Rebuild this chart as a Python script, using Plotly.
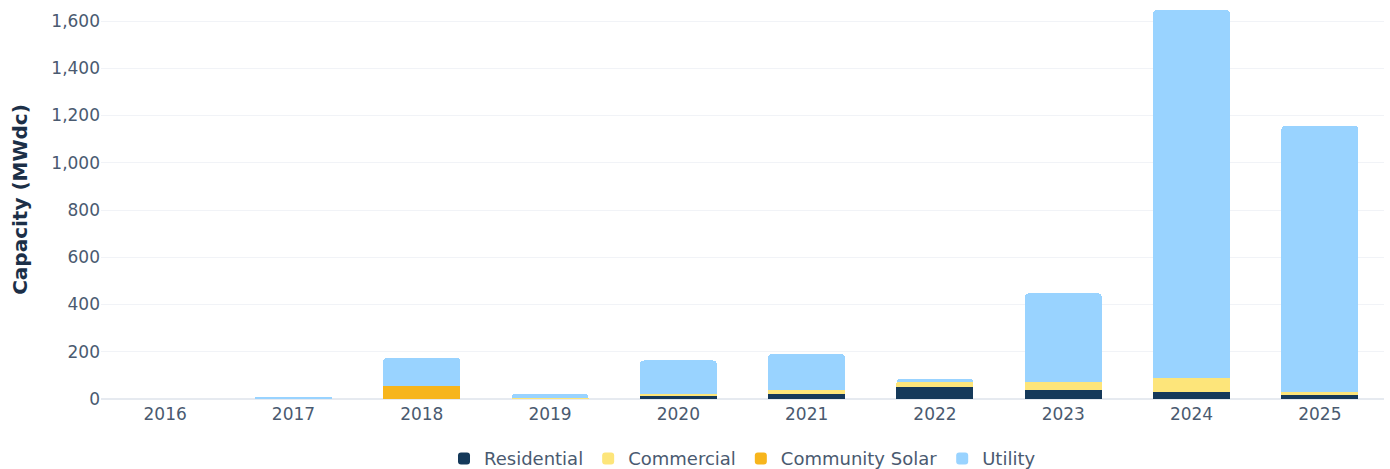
import plotly.graph_objects as go

years = ["2016", "2017", "2018", "2019", "2020", "2021", "2022", "2023", "2024", "2025"]
residential = [0, 3, 0, 3, 15, 21, 52, 38, 28, 17]
commercial = [0, 0, 0, 1, 5, 17, 21, 35, 62, 14]
community_solar = [0, 0, 56, 0, 0, 0, 0, 0, 0, 0]
utility = [0, 3, 118, 17, 143, 152, 12, 374, 1557, 1125]

series = [
    ("Residential", residential, "#15395a"),
    ("Commercial", commercial, "#fde57a"),
    ("Community Solar", community_solar, "#f7b51c"),
    ("Utility", utility, "#99d3ff"),
]

fig = go.Figure()
for name, vals, color in series:
    fig.add_trace(go.Bar(
        x=years, y=vals, name=name,
        marker=dict(color=color, line=dict(width=0)),
        hovertemplate="%{x}: %{y:,} MWdc<extra>" + name + "</extra>",
    ))

font_family = "DejaVu Sans, Open Sans, sans-serif"
fig.update_layout(
    barmode="stack",
    bargap=0.4,
    barcornerradius=4,
    width=1390, height=469,
    margin=dict(l=101, r=6, t=0, b=70, autoexpand=False),
    paper_bgcolor="white",
    plot_bgcolor="white",
    font=dict(family=font_family, color="#4a5a70", size=17),
    xaxis=dict(
        type="category",
        showgrid=False,
        showline=True, linecolor="#e6eaf0", linewidth=1,
        ticks="", tickfont=dict(size=17, color="#4a5a70"),
    ),
    yaxis=dict(
        range=[0, 1689],
        tickvals=[0, 200, 400, 600, 800, 1000, 1200, 1400, 1600],
        tickformat=",",
        showgrid=True, gridcolor="#f1f3f7", gridwidth=1,
        zeroline=True, zerolinecolor="#e6eaf0",
        ticks="",
        tickfont=dict(size=17, color="#4a5a70"),
        title=dict(text="<b>Capacity (MWdc)</b>", font=dict(size=20, color="#1c2f47"), standoff=18),
    ),
    legend=dict(
        orientation="h",
        x=0.5, xanchor="center", xref="paper",
        y=0.022, yanchor="middle", yref="container",
        font=dict(size=18, color="#4a5a70"),
        itemwidth=30,
        traceorder="normal",
    ),
    showlegend=True,
)

fig.write_html(
    "out.html",
    config={"displayModeBar": False},
    post_script="document.body.style.margin='0';document.body.style.overflow='hidden';",
)
